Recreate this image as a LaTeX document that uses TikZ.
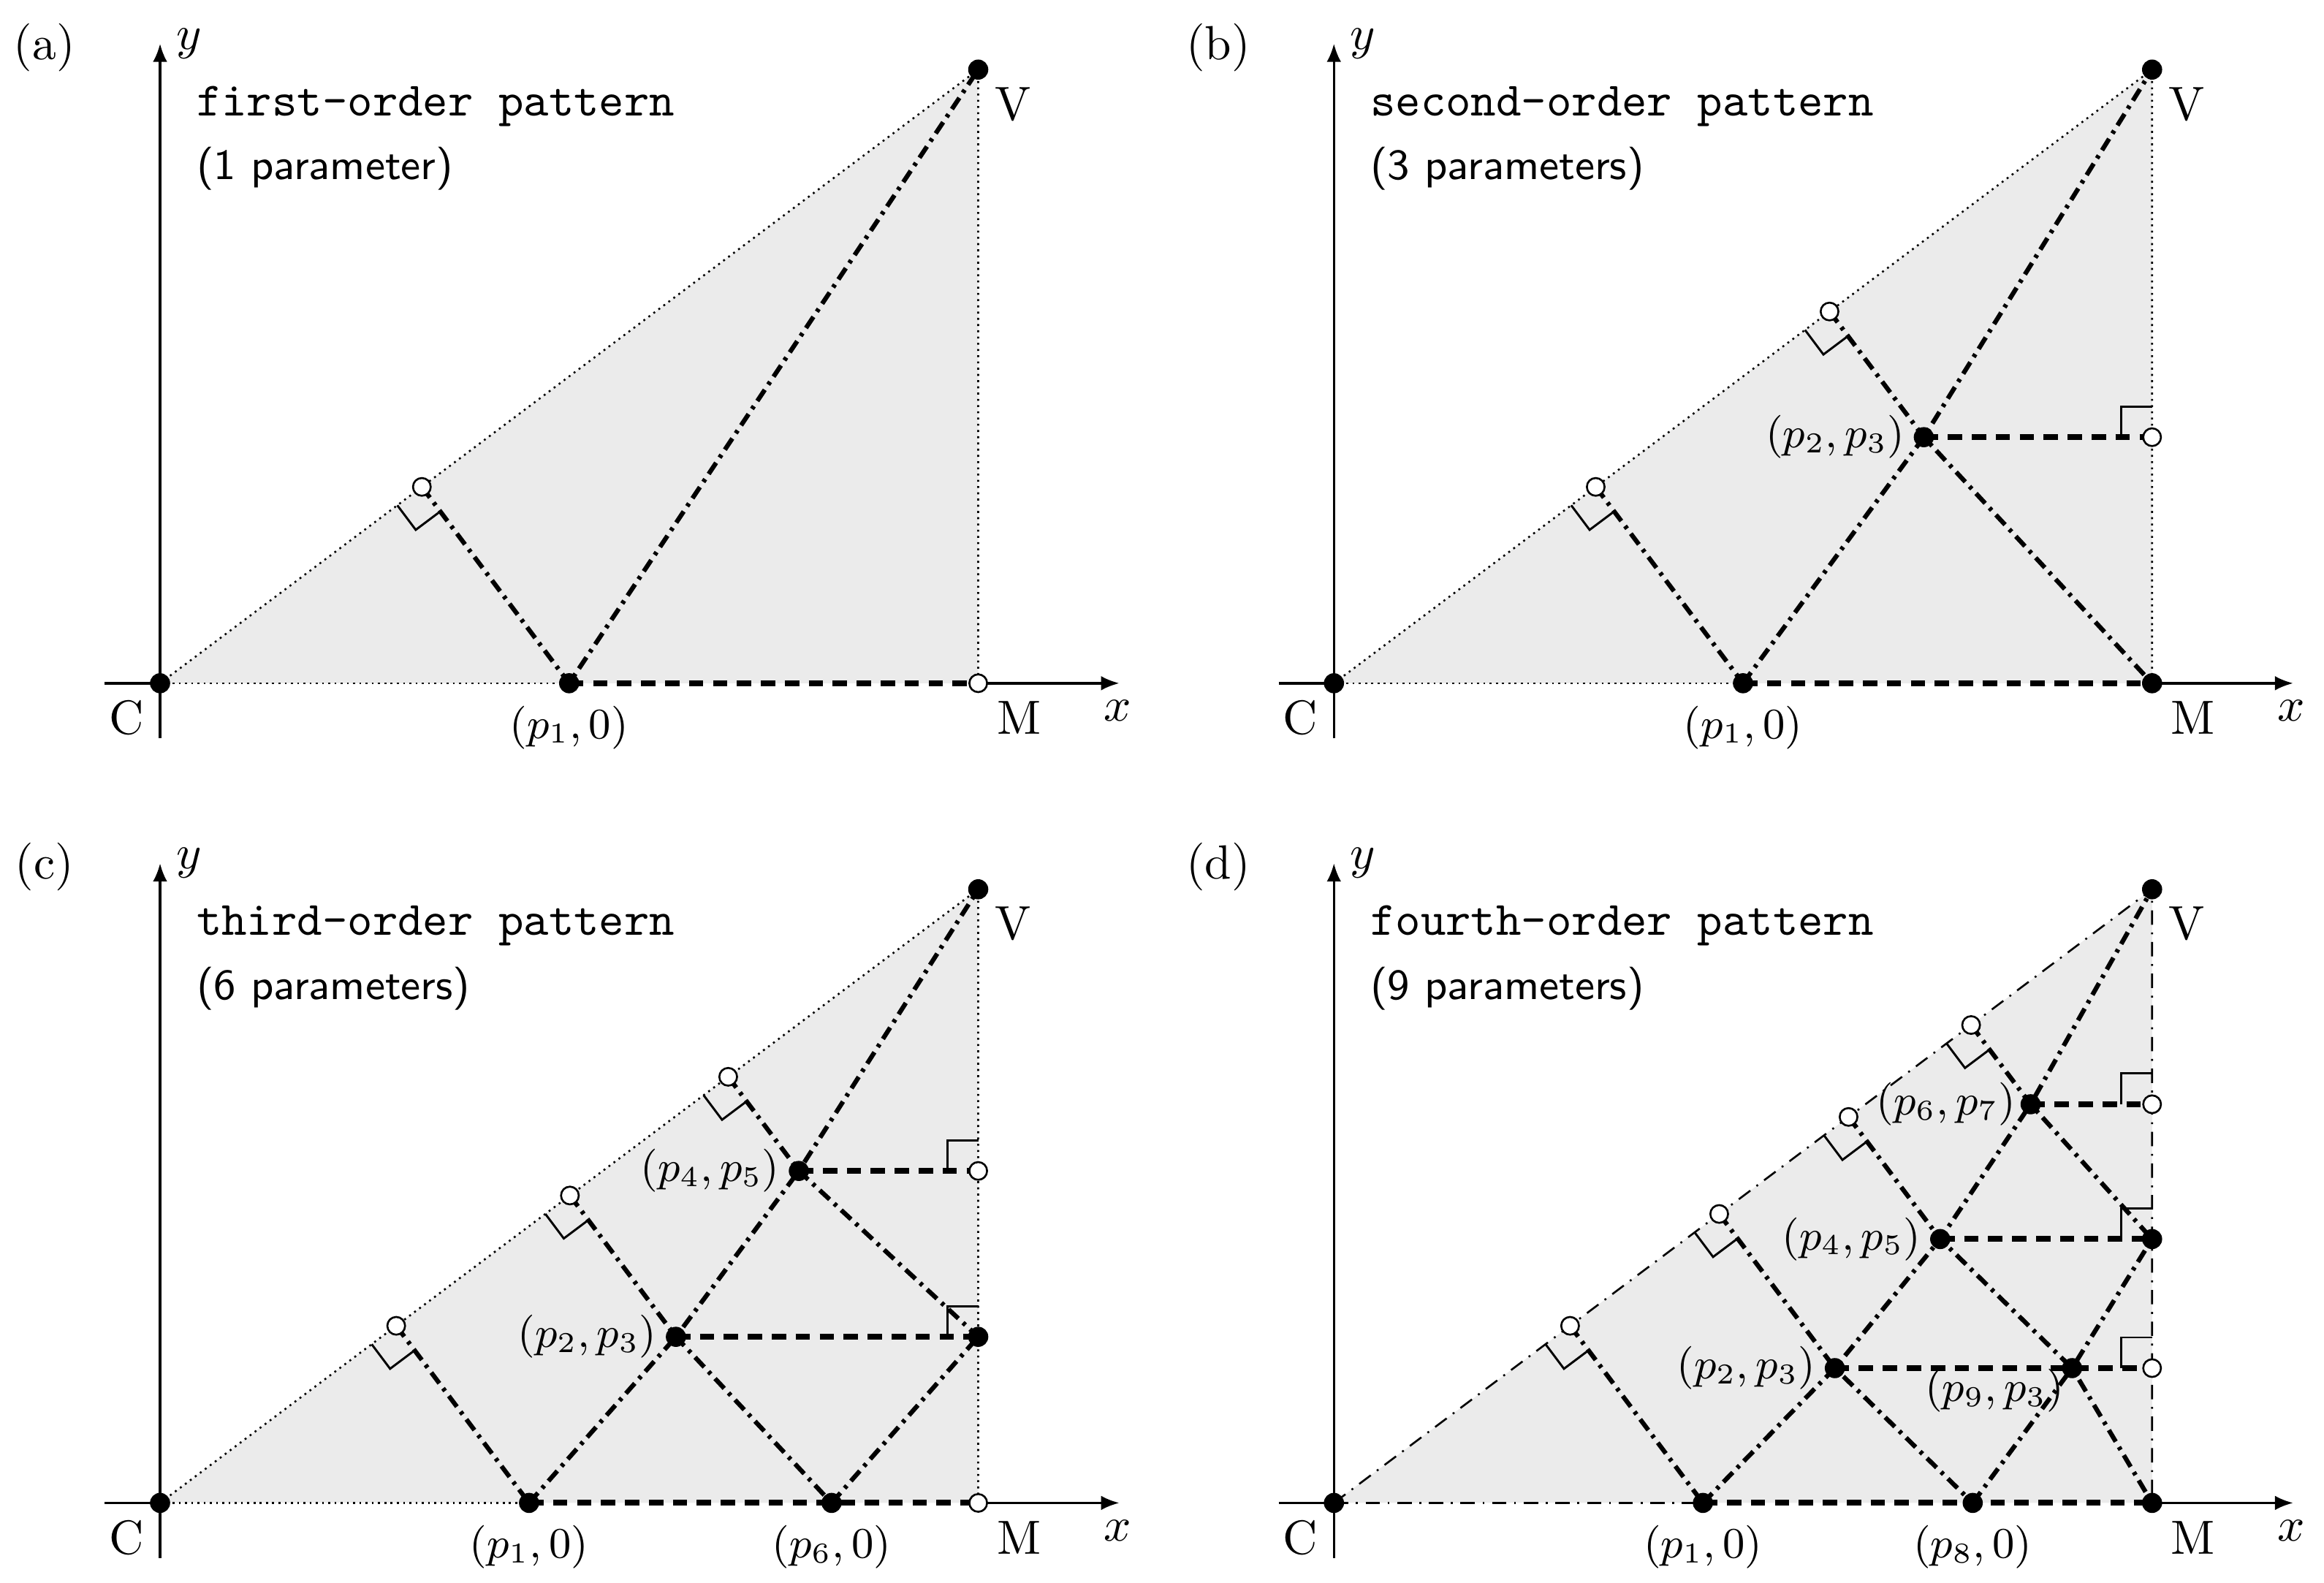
\documentclass[tikz,border=0pt]{standalone}
\usetikzlibrary{calc,arrows.meta}
\definecolor{fillg}{RGB}{235,235,235}
\tikzset{
 axisline/.style={line width=0.5pt},
 axisarrow/.style={line width=0.5pt,-{Latex[length=3.8pt,width=3pt]}},
 bnd/.style={line width=0.4pt,dash pattern=on 0.4pt off 0.9pt},
 bndd/.style={line width=0.4pt,dash pattern=on 3pt off 1.6pt on 0.4pt off 1.6pt},
 ddline/.style={line width=0.95pt,dash pattern=on 2.8pt off 1.3pt on 0.7pt off 1.3pt},
 dshline/.style={line width=1.2pt,dash pattern=on 3pt off 2pt},
 rmk/.style={line width=0.45pt},
 fdot/.style={circle,fill=black,inner sep=0pt,minimum size=4.2pt},
 odot/.style={circle,draw=black,fill=white,line width=0.4pt,inner sep=0pt,minimum size=3.7pt},
 lab/.style={inner sep=0pt,font=\fontsize{10}{12}\selectfont},
 plab/.style={inner sep=0pt,font=\fontsize{9.2}{11}\selectfont},
 ttl/.style={inner sep=0pt,anchor=base west,font=\fontsize{10}{12}\selectfont\ttfamily},
 subttl/.style={inner sep=0pt,anchor=base west,font=\fontsize{9}{11}\selectfont\sffamily},
}
\newcommand\panelbase[5]{%
 \coordinate (#1C) at (0,0);
 \coordinate (#1M) at (4,0);
 \coordinate (#1V) at (4,3);
 \coordinate (#1xl) at (-0.27,0);
 \coordinate (#1xr) at (4.69,0);
 \coordinate (#1yb) at (0,-0.27);
 \coordinate (#1yt) at (0,3.127);
 \fill[fillg] (#1C) -- (#1M) -- (#1V) -- cycle;
 \draw[axisline] (#1xl) -- (#1C);
 \draw[axisarrow] (#1M) -- (#1xr);
 \draw[axisarrow] (#1yb) -- (#1yt);
 \draw[#5] (#1C) -- (#1V) -- (#1M);
 \node[lab,anchor=base] (#1lC) at (-0.165,-0.25) {C};
 \node[lab,anchor=base] (#1lM) at (4.20,-0.25) {M};
 \node[lab,anchor=base] (#1lV) at (4.17,2.754) {V};
 \node[lab,anchor=base] (#1lx) at (4.68,-0.185) {$x$};
 \node[lab,anchor=base] (#1ly) at (0.141,3.10) {$y$};
 \node[lab,anchor=base] (#1lp) at (-0.566,3.05) {#2};
 \node[ttl] (#1t1) at (0.174,2.775) {#3};
 \node[subttl] (#1t2) at (0.174,2.462) {#4};
}
\newcommand\rmkfoot[1]{\draw[rmk] ($(#1)+(-0.12,-0.09)$) -- ++(0.09,-0.12) -- ++(0.12,0.09);}
\newcommand\rmkedge[1]{\draw[rmk] ($(#1)+(-0.15,0)$) -- ++(0,0.15) -- ++(0.15,0);}
\begin{document}
\begin{tikzpicture}[x=1.5cm,y=1.5cm]
\useasboundingbox (0,0) rectangle (11.3623,7.7391);

% ---------------- panel (a)
\begin{scope}[shift={(0.7826,4.3986)}]
\panelbase{a}{(a)}{first-order pattern}{(1 parameter)}{bnd}
\coordinate (ap1) at (2,0);
\coordinate (aF1) at ($(aC)!(ap1)!(aV)$);
\draw[bnd] (aC) -- (ap1);
\draw[ddline] (aF1) -- (ap1) -- (aV);
\draw[dshline] (ap1) -- (aM);
\rmkfoot{aF1}
\node[fdot] (aCd) at (aC) {};
\node[fdot] (aVd) at (aV) {};
\node[odot] (aMd) at (aM) {};
\node[fdot] (ap1d) at (ap1) {};
\node[odot] (aF1d) at (aF1) {};
\node[plab,anchor=base] (ap1l) at ($(ap1)+(0,-0.27)$) {$(p_1,0)$};
\end{scope}

% ---------------- panel (b)
\begin{scope}[shift={(6.5217,4.3986)}]
\panelbase{b}{(b)}{second-order pattern}{(3 parameters)}{bnd}
\coordinate (bp1) at (2,0);
\coordinate (bP23) at (2.884,1.203);
\coordinate (bR3) at (4,1.203);
\coordinate (bF1) at ($(bC)!(bp1)!(bV)$);
\coordinate (bF2) at ($(bC)!(bP23)!(bV)$);
\draw[bnd] (bC) -- (bp1);
\draw[ddline] (bF1) -- (bp1);
\draw[ddline] (bp1) -- (bP23) -- (bV);
\draw[ddline] (bF2) -- (bP23) -- (bM);
\draw[dshline] (bp1) -- (bM);
\draw[dshline] (bP23) -- (bR3);
\rmkfoot{bF1}
\rmkfoot{bF2}
\rmkedge{bR3}
\node[fdot] (bCd) at (bC) {};
\node[fdot] (bVd) at (bV) {};
\node[fdot] (bMd) at (bM) {};
\node[fdot] (bp1d) at (bp1) {};
\node[fdot] (bP23d) at (bP23) {};
\node[odot] (bR3d) at (bR3) {};
\node[odot] (bF1d) at (bF1) {};
\node[odot] (bF2d) at (bF2) {};
\node[plab,anchor=base] (bp1l) at ($(bp1)+(0,-0.27)$) {$(p_1,0)$};
\node[plab,anchor=east] (bP23l) at ($(bP23)+(-0.09,0)$) {$(p_2,p_3)$};
\end{scope}

% ---------------- panel (c)
\begin{scope}[shift={(0.7826,0.3913)}]
\panelbase{c}{(c)}{third-order pattern}{(6 parameters)}{bnd}
\coordinate (cp1) at (1.804,0);
\coordinate (cp6) at (3.283,0);
\coordinate (cP23) at (2.522,0.812);
\coordinate (cP45) at (3.123,1.623);
\coordinate (cR3) at (4,0.812);
\coordinate (cR5) at (4,1.623);
\coordinate (cF1) at ($(cC)!(cp1)!(cV)$);
\coordinate (cF2) at ($(cC)!(cP23)!(cV)$);
\coordinate (cF3) at ($(cC)!(cP45)!(cV)$);
\draw[bnd] (cC) -- (cp1);
\draw[ddline] (cF1) -- (cp1);
\draw[ddline] (cp1) -- (cP23) -- (cP45) -- (cV);
\draw[ddline] (cF2) -- (cP23) -- (cp6);
\draw[ddline] (cF3) -- (cP45) -- (cR3);
\draw[ddline] (cp6) -- (cR3);
\draw[dshline] (cp1) -- (cM);
\draw[dshline] (cP23) -- (cR3);
\draw[dshline] (cP45) -- (cR5);
\rmkfoot{cF1}
\rmkfoot{cF2}
\rmkfoot{cF3}
\rmkedge{cR3}
\rmkedge{cR5}
\node[fdot] (cCd) at (cC) {};
\node[fdot] (cVd) at (cV) {};
\node[odot] (cMd) at (cM) {};
\node[fdot] (cp1d) at (cp1) {};
\node[fdot] (cp6d) at (cp6) {};
\node[fdot] (cP23d) at (cP23) {};
\node[fdot] (cP45d) at (cP45) {};
\node[fdot] (cR3d) at (cR3) {};
\node[odot] (cR5d) at (cR5) {};
\node[odot] (cF1d) at (cF1) {};
\node[odot] (cF2d) at (cF2) {};
\node[odot] (cF3d) at (cF3) {};
\node[plab,anchor=base] (cp1l) at ($(cp1)+(0,-0.27)$) {$(p_1,0)$};
\node[plab,anchor=base] (cp6l) at ($(cp6)+(0,-0.27)$) {$(p_6,0)$};
\node[plab,anchor=east] (cP23l) at ($(cP23)+(-0.09,0)$) {$(p_2,p_3)$};
\node[plab,anchor=east] (cP45l) at ($(cP45)+(-0.09,0)$) {$(p_4,p_5)$};
\end{scope}

% ---------------- panel (d)
\begin{scope}[shift={(6.5217,0.3913)}]
\panelbase{d}{(d)}{fourth-order pattern}{(9 parameters)}{bndd}
\coordinate (dp1) at (1.804,0);
\coordinate (dp8) at (3.123,0);
\coordinate (dP23) at (2.449,0.659);
\coordinate (dP45) at (2.964,1.290);
\coordinate (dP67) at (3.406,1.949);
\coordinate (dP93) at (3.609,0.659);
\coordinate (dR3) at (4,0.659);
\coordinate (dR5) at (4,1.290);
\coordinate (dR7) at (4,1.949);
\coordinate (dF1) at ($(dC)!(dp1)!(dV)$);
\coordinate (dF2) at ($(dC)!(dP23)!(dV)$);
\coordinate (dF3) at ($(dC)!(dP45)!(dV)$);
\coordinate (dF4) at ($(dC)!(dP67)!(dV)$);
\draw[bndd] (dC) -- (dp1);
\draw[ddline] (dF1) -- (dp1);
\draw[ddline] (dp1) -- (dP23) -- (dP45) -- (dP67) -- (dV);
\draw[ddline] (dF2) -- (dP23) -- (dp8);
\draw[ddline] (dF3) -- (dP45) -- (dP93) -- (dM);
\draw[ddline] (dF4) -- (dP67) -- (dR5);
\draw[ddline] (dp8) -- (dP93) -- (dR5);
\draw[dshline] (dp1) -- (dM);
\draw[dshline] (dP23) -- (dR3);
\draw[dshline] (dP45) -- (dR5);
\draw[dshline] (dP67) -- (dR7);
\rmkfoot{dF1}
\rmkfoot{dF2}
\rmkfoot{dF3}
\rmkfoot{dF4}
\rmkedge{dR3}
\rmkedge{dR5}
\rmkedge{dR7}
\node[fdot] (dCd) at (dC) {};
\node[fdot] (dVd) at (dV) {};
\node[fdot] (dMd) at (dM) {};
\node[fdot] (dp1d) at (dp1) {};
\node[fdot] (dp8d) at (dp8) {};
\node[fdot] (dP23d) at (dP23) {};
\node[fdot] (dP45d) at (dP45) {};
\node[fdot] (dP67d) at (dP67) {};
\node[fdot] (dP93d) at (dP93) {};
\node[odot] (dR3d) at (dR3) {};
\node[fdot] (dR5d) at (dR5) {};
\node[odot] (dR7d) at (dR7) {};
\node[odot] (dF1d) at (dF1) {};
\node[odot] (dF2d) at (dF2) {};
\node[odot] (dF3d) at (dF3) {};
\node[odot] (dF4d) at (dF4) {};
\node[plab,anchor=base] (dp1l) at ($(dp1)+(0,-0.27)$) {$(p_1,0)$};
\node[plab,anchor=base] (dp8l) at ($(dp8)+(0,-0.27)$) {$(p_8,0)$};
\node[plab,anchor=east] (dP23l) at ($(dP23)+(-0.09,0)$) {$(p_2,p_3)$};
\node[plab,anchor=east] (dP45l) at ($(dP45)+(-0.09,0)$) {$(p_4,p_5)$};
\node[plab,anchor=east] (dP67l) at ($(dP67)+(-0.07,0)$) {$(p_6,p_7)$};
\node[plab] (dP93l) at ($(dP93)+(-0.38,-0.11)$) {$(p_9,p_3)$};
\end{scope}
\end{tikzpicture}
\end{document}
